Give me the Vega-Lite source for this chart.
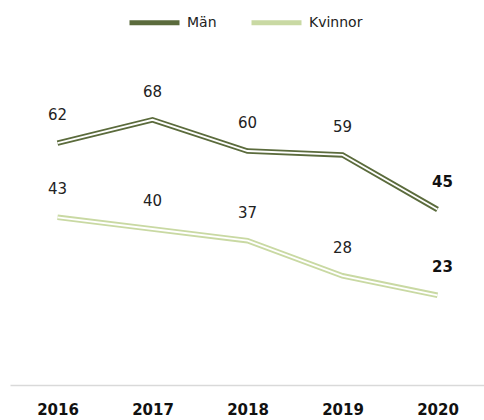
{
  "$schema": "https://vega.github.io/schema/vega-lite/v6.json",
  "width": 475,
  "height": 312,
  "autosize": "none",
  "padding": {"left": 10, "top": 73, "right": 0, "bottom": 35},
  "background": "white",
  "config": {"view": {"stroke": null}, "font": "DejaVu Sans"},
  "data": {"values": [
    {"year": "2016", "series": "Män", "value": 62, "last": false},
    {"year": "2017", "series": "Män", "value": 68, "last": false},
    {"year": "2018", "series": "Män", "value": 60, "last": false},
    {"year": "2019", "series": "Män", "value": 59, "last": false},
    {"year": "2020", "series": "Män", "value": 45, "last": true},
    {"year": "2016", "series": "Kvinnor", "value": 43, "last": false},
    {"year": "2017", "series": "Kvinnor", "value": 40, "last": false},
    {"year": "2018", "series": "Kvinnor", "value": 37, "last": false},
    {"year": "2019", "series": "Kvinnor", "value": 28, "last": false},
    {"year": "2020", "series": "Kvinnor", "value": 23, "last": true}
  ]},
  "encoding": {
    "x": {"field": "year", "type": "ordinal", "scale": {"type": "point", "padding": 0.5},
      "axis": {"title": null, "ticks": false, "labelAngle": 0, "labelFontWeight": "bold", "labelFontSize": 15, "labelColor": "#111", "labelPadding": 17, "domainColor": "#d9d9d9", "domainWidth": 1.5, "grid": false}},
    "y": {"field": "value", "type": "quantitative", "scale": {"domain": [0, 80]}, "axis": null}
  },
  "layer": [
    {
      "mark": {"type": "line", "strokeWidth": 5.5},
      "encoding": {
        "color": {"field": "series", "type": "nominal", "sort": ["Män", "Kvinnor"],
          "scale": {"domain": ["Män", "Kvinnor"], "range": ["#5b6b3c", "#c9d9a3"]},
          "legend": {"title": null, "orient": "none", "direction": "horizontal", "legendX": 117, "legendY": -78,
            "symbolType": "stroke", "symbolSize": 2500, "symbolStrokeWidth": 5, "labelFontSize": 14, "labelColor": "#222", "labelOffset": 5, "columnPadding": 24}}
      }
    },
    {
      "mark": {"type": "line", "strokeWidth": 1.8, "color": "white"},
      "encoding": {"detail": {"field": "series"}}
    },
    {
      "transform": [{"filter": "!datum.last"}],
      "mark": {"type": "text", "dy": -28, "fontSize": 15, "color": "#222"},
      "encoding": {"text": {"field": "value", "type": "quantitative"}}
    },
    {
      "transform": [{"filter": "datum.last"}],
      "mark": {"type": "text", "dy": -28, "dx": 5, "fontSize": 15, "fontWeight": "bold", "color": "#111"},
      "encoding": {"text": {"field": "value", "type": "quantitative"}}
    }
  ]
}
